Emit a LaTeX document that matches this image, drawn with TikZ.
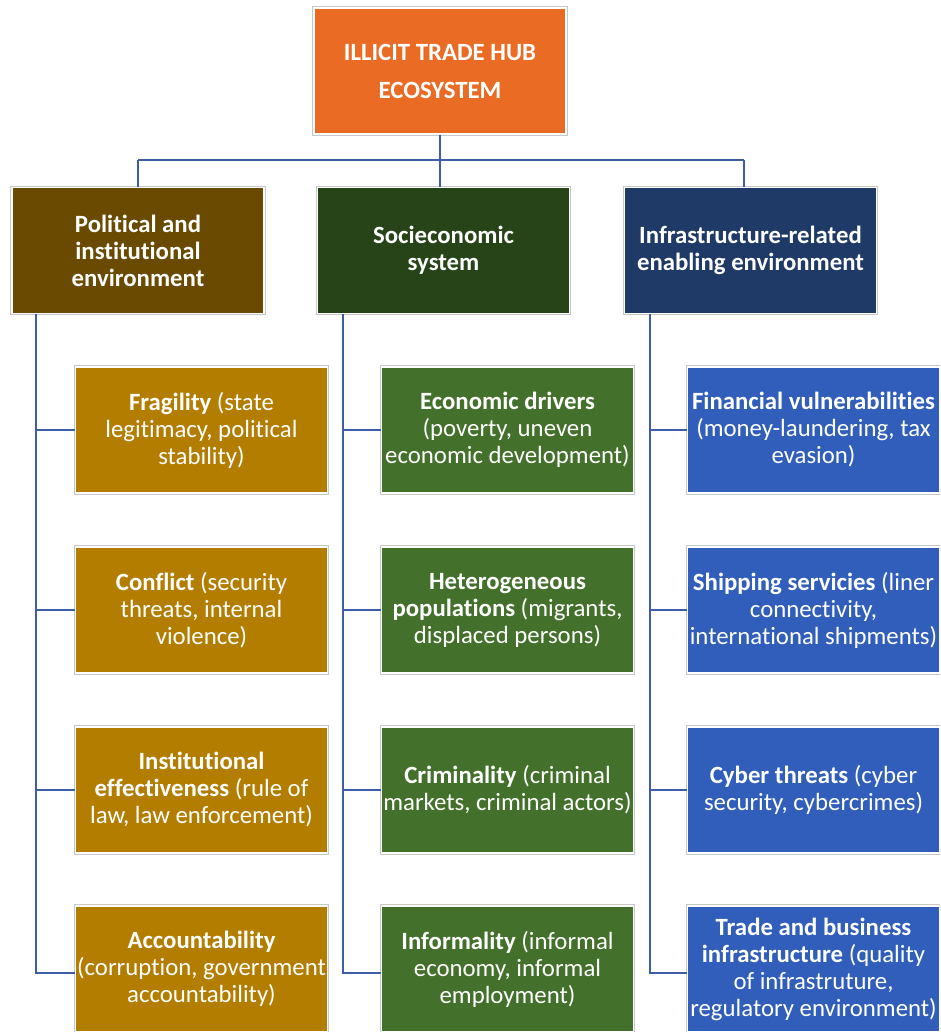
\documentclass[tikz,border=0pt]{standalone}
\usepackage{fontspec}
\setmainfont{Carlito}[RawFeature={-liga}]
\definecolor{cTop}{HTML}{E96B24}
\definecolor{cPol}{HTML}{6A4A00}
\definecolor{cSoc}{HTML}{274418}
\definecolor{cInf}{HTML}{1F3A66}
\definecolor{kPol}{HTML}{B37D00}
\definecolor{kSoc}{HTML}{43702A}
\definecolor{kInf}{HTML}{305EBA}
\definecolor{cLine}{HTML}{3D5DA8}
\tikzset{
  box/.style={preaction={draw=black!22, line width=3.5pt}, draw=white, line width=1.5pt,
    text=white, align=center, minimum width=252pt, minimum height=126pt, inner sep=0pt,
    font=\fontsize{24.8pt}{27pt}\selectfont},
  topbox/.style={box, fill=cTop, font=\bfseries\fontsize{24.8pt}{38pt}\selectfont},
  headbox/.style={box, font=\bfseries\fontsize{24.8pt}{27pt}\selectfont},
  conn/.style={draw=cLine, line width=2pt},
}
\begin{document}
\begin{tikzpicture}[x=1pt,y=-1pt]
\clip (0,0) rectangle (940,1032);
\fill[white] (0,0) rectangle (940,1032);
% top
\node[topbox] (top) at (440,71) {ILLICIT TRADE HUB\\ECOSYSTEM};
% level 1
\node[headbox, fill=cPol] (pol) at (138,250.5) {Political and\\institutional\\environment};
\node[headbox, fill=cSoc] (soc) at (443.5,250.5) {Socieconomic\\system};
\node[headbox, fill=cInf] (inf) at (750.5,250.5) {Infrastructure-related\\enabling environment};
% children
\foreach \n/\y in {1/430,2/610,3/790,4/969}{
  \path (201.5,\y) coordinate (pc\n) (507.5,\y) coordinate (sc\n) (813.5,\y) coordinate (ic\n);
}
\node[box, fill=kPol] (p1) at (pc1) {\textbf{Fragility} (state\\legitimacy, political\\stability)};
\node[box, fill=kPol] (p2) at (pc2) {\textbf{Conflict} (security\\threats, internal\\violence)};
\node[box, fill=kPol] (p3) at (pc3) {\textbf{Institutional}\\\textbf{effectiveness} (rule of\\law, law enforcement)};
\node[box, fill=kPol] (p4) at (pc4) {\textbf{Accountability}\\(corruption, government\\accountability)};
\node[box, fill=kSoc] (s1) at (sc1) {\textbf{Economic drivers}\\(poverty, uneven\\economic development)};
\node[box, fill=kSoc] (s2) at (sc2) {\textbf{Heterogeneous}\\\textbf{populations} (migrants,\\displaced persons)};
\node[box, fill=kSoc] (s3) at (sc3) {\textbf{Criminality} (criminal\\markets, criminal actors)};
\node[box, fill=kSoc] (s4) at (sc4) {\textbf{Informality} (informal\\economy, informal\\employment)};
\node[box, fill=kInf] (i1) at (ic1) {\textbf{Financial vulnerabilities}\\(money-laundering, tax\\evasion)};
\node[box, fill=kInf] (i2) at (ic2) {\textbf{Shipping servicies} (liner\\connectivity,\\international shipments)};
\node[box, fill=kInf] (i3) at (ic3) {\textbf{Cyber threats} (cyber\\security, cybercrimes)};
\node[box, fill=kInf] (i4) at (ic4) {\textbf{Trade and business}\\\textbf{infrastructure} (quality\\of infrastruture,\\regulatory environment)};
% connectors top
\coordinate (bus) at (440,160);
\coordinate (busR) at (744,160);
\draw[conn] (top.south) -- (top.south |- soc.north);
\draw[conn] (pol.north |- bus) -- (busR);
\draw[conn] (pol.north) -- (pol.north |- bus);
\draw[conn] (busR) -- (busR |- inf.north);
% trunks
\draw[conn] ([xshift=25pt]pol.south west) |- (p1.west);
\draw[conn] ([xshift=25pt]pol.south west) |- (p2.west);
\draw[conn] ([xshift=25pt]pol.south west) |- (p3.west);
\draw[conn] ([xshift=25pt]pol.south west) |- ([yshift=-4pt]p4.west);
\draw[conn] ([xshift=26pt]soc.south west) |- (s1.west);
\draw[conn] ([xshift=26pt]soc.south west) |- (s2.west);
\draw[conn] ([xshift=26pt]soc.south west) |- (s3.west);
\draw[conn] ([xshift=26pt]soc.south west) |- ([yshift=-4pt]s4.west);
\draw[conn] ([xshift=26pt]inf.south west) |- (i1.west);
\draw[conn] ([xshift=26pt]inf.south west) |- (i2.west);
\draw[conn] ([xshift=26pt]inf.south west) |- (i3.west);
\draw[conn] ([xshift=26pt]inf.south west) |- ([yshift=-4pt]i4.west);
\end{tikzpicture}
\end{document}
